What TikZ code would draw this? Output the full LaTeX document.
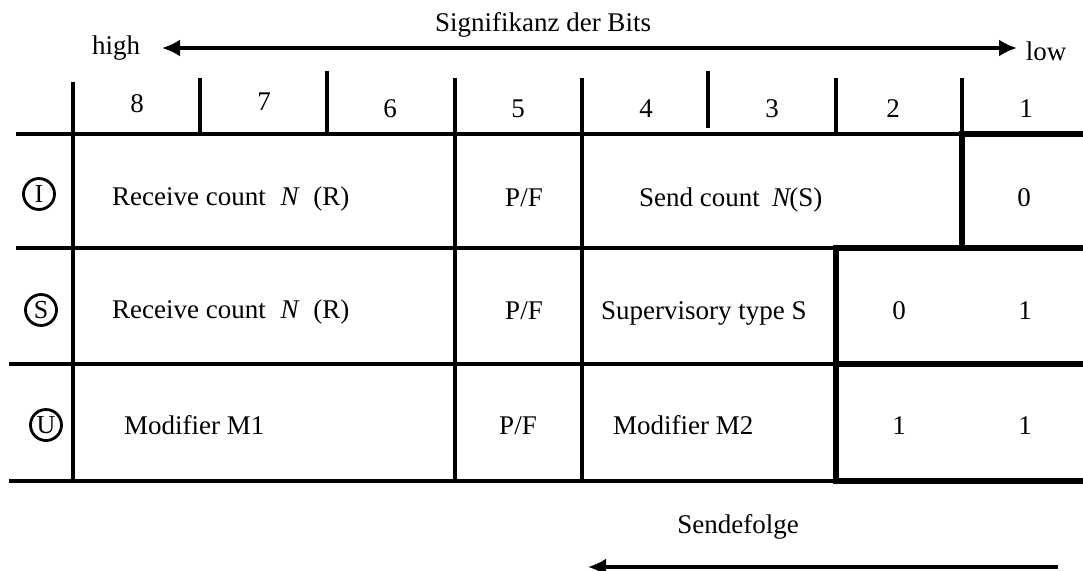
\documentclass[tikz,border=0pt]{standalone}
\usepackage{fontspec}
\setmainfont{Liberation Serif}
\usetikzlibrary{arrows.meta}
\begin{document}
\begin{tikzpicture}[x=1pt,y=-1pt,
  thinrule/.style={line width=3.2pt},
  boldrule/.style={line width=5.5pt, line join=miter},
  txt/.style={font=\fontsize{27}{32}\selectfont, inner sep=0pt, anchor=base},
  txtw/.style={txt, anchor=base west},
  circ/.style={circle, draw, line width=2.8pt, minimum size=31pt, inner sep=0pt, font=\fontsize{26}{30}\selectfont},
  arrline/.style={line width=3.2pt}]
\useasboundingbox (0,0) rectangle (1083,570);
% top significance arrow
\node[txt] (sig) at (543,31) {Signifikanz der Bits};
\node[txt] (high) at (116,54) {high};
\node[txt] (low) at (1046,60) {low};
\coordinate (hiend) at (162,48);
\coordinate (loend) at (1017,48);
\draw[arrline, {Latex[length=18pt,width=17pt]}-{Latex[length=18pt,width=17pt]}] (hiend) -- (loend);
% header dividers
\draw[thinrule] (200,78) -- (200,134);
\draw[thinrule] (327,71) -- (327,134);
\draw[thinrule] (708,71) -- (708,128);
\draw[thinrule] (836,78) -- (836,134);
\draw[thinrule] (962,78) -- (962,134);
% long verticals
\draw[thinrule] (73,82) -- (73,481);
\draw[thinrule] (455,78) -- (455,481);
\draw[thinrule] (582,78) -- (582,481);
% horizontals (thin parts)
\draw[thinrule] (16,134) -- (962,134);
\draw[thinrule] (16,248) -- (836,248);
\draw[thinrule] (9,364) -- (836,364);
\draw[thinrule] (9,481) -- (836,481);
% bold frames
\draw[boldrule] (1095,134) -- (962,134) -- (962,248);
\draw[boldrule] (1095,248) -- (836,248) -- (836,481) -- (1095,481);
\draw[boldrule] (836,364) -- (1095,364);
% header digits
\node[txt] (b8) at (137,112) {8};
\node[txt] (b7) at (264,110) {7};
\node[txt] (b6) at (390,117) {6};
\node[txt] (b5) at (518,117) {5};
\node[txt] (b4) at (646,117) {4};
\node[txt] (b3) at (772,117) {3};
\node[txt] (b2) at (893,117) {2};
\node[txt] (b1) at (1026,117) {1};
% row labels
\node[circ] (ci) at (39,194) {I};
\node[circ] (cs) at (41,310) {S};
\node[circ] (cu) at (46,425) {U};
% row I
\node[txtw] (ir) at (112,205) {Receive count\hspace{0.55em}\textit{N}\hspace{0.5em}(R)};
\node[txt] (ipf) at (524,206) {P/F};
\node[txtw] (isc) at (639,206) {Send count\hspace{0.45em}\textit{N}\kern-2pt(S)};
\node[txt] (i0) at (1024,206) {0};
% row S
\node[txtw] (sr) at (112,318) {Receive count\hspace{0.55em}\textit{N}\hspace{0.5em}(R)};
\node[txt] (spf) at (524,319) {P/F};
\node[txtw] (sst) at (601,319) {Supervisory type S};
\node[txt] (s0) at (899,319) {0};
\node[txt] (s1) at (1025,319) {1};
% row U
\node[txtw] (um1) at (124,434) {Modifier M1};
\node[txt] (upf) at (518,434) {P/F};
\node[txtw] (um2) at (613,434) {Modifier M2};
\node[txt] (u1a) at (899,434) {1};
\node[txt] (u1b) at (1025,434) {1};
% transmission order
\node[txt] (send) at (738,533) {Sendefolge};
\coordinate (sfstart) at (1058,567);
\coordinate (sfend) at (588,567);
\draw[arrline, -{Latex[length=18pt,width=17pt]}] (sfstart) -- (sfend);
\end{tikzpicture}
\end{document}
